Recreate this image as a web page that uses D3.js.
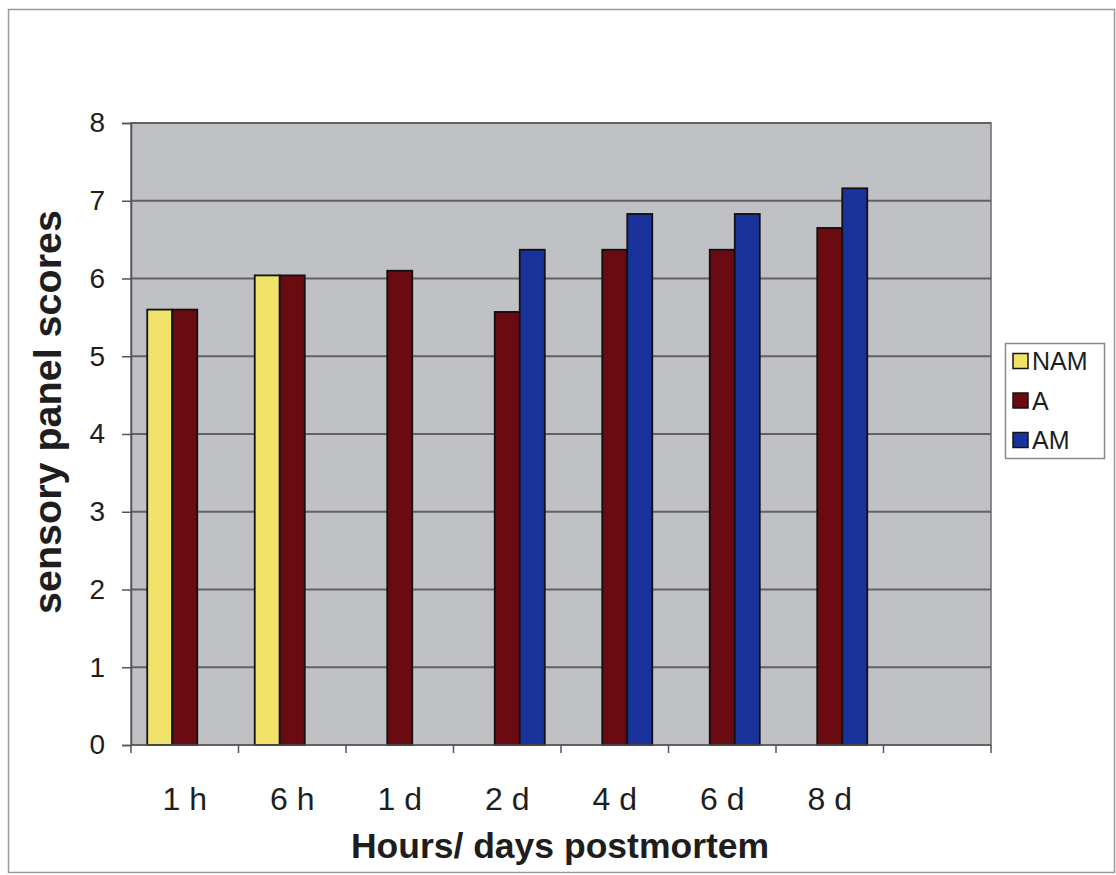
<!DOCTYPE html>
<html>
<head>
<meta charset="utf-8">
<script src="https://cdn.jsdelivr.net/npm/d3@7"></script>
<style>
  html, body { margin: 0; padding: 0; background: #fff; }
  svg { display: block; }
  text { font-family: Arial, "Liberation Sans", Helvetica, sans-serif; fill: #1e1e1e; }
</style>
</head>
<body>
<svg id="chart" width="1116" height="875"></svg>
<script>
// Sampling times (the last slot is left blank on the axis)
const categories = ["1 h", "6 h", "1 d", "2 d", "4 d", "6 d", "8 d", ""];
const seriesNames = ["NAM", "A", "AM"];
const seriesColors = ["#f1e36a", "#6a0b12", "#1a339c"];

// Mean sensory panel scores per series (null = not sampled)
const valuesNAM = [5.6, 6.04, null, null, null, null, null];
const valuesA   = [5.6, 6.04, 6.1, 5.57, 6.37, 6.37, 6.65];
const valuesAM  = [null, null, null, 6.37, 6.83, 6.83, 7.16];

const yTicks = [0, 1, 2, 3, 4, 5, 6, 7, 8];

const seriesValues = [valuesNAM, valuesA, valuesAM];

const svg = d3.select("#chart");
const W = 1116, H = 875;
const plot = { left: 131, right: 991, top: 123, bottom: 745 };

svg.append("rect").attr("width", W).attr("height", H).attr("fill", "#fff");

// outer frame
svg.append("rect")
  .attr("x", 8.5).attr("y", 9.5).attr("width", 1106).attr("height", 863)
  .attr("fill", "none").attr("stroke", "#9a9a9a").attr("stroke-width", 1.5);

const x = d3.scaleBand().domain(categories).range([plot.left, plot.right]).paddingInner(0).paddingOuter(0);
const groupFrac = 0.698;
const x1 = d3.scaleBand().domain(seriesNames)
  .range([x.bandwidth() * (1 - groupFrac) / 2, x.bandwidth() * (1 + groupFrac) / 2]);
const y = d3.scaleLinear().domain([0, 8]).range([plot.bottom, plot.top]);
const color = d3.scaleOrdinal().domain(seriesNames).range(seriesColors);

// plot background
svg.append("rect")
  .attr("x", plot.left).attr("y", plot.top)
  .attr("width", plot.right - plot.left).attr("height", plot.bottom - plot.top)
  .attr("fill", "#c0c1c4").attr("stroke", "#737373").attr("stroke-width", 1.6);

// horizontal gridlines
svg.append("g").selectAll("line").data(yTicks.filter(d => d > 0)).join("line")
  .attr("x1", plot.left).attr("x2", plot.right)
  .attr("y1", d => y(d)).attr("y2", d => y(d))
  .attr("stroke", "#626262").attr("stroke-width", 1.8);

// y axis
const yAxis = d3.axisLeft(y).tickValues(yTicks).tickSize(9).tickPadding(17).tickFormat(d3.format("d"));
const gy = svg.append("g").attr("transform", `translate(${plot.left},0)`).call(yAxis);
gy.select(".domain").attr("stroke", "#555").attr("stroke-width", 1.5);
gy.selectAll(".tick line").attr("stroke", "#555").attr("stroke-width", 1.5);
gy.selectAll(".tick text").attr("font-size", 28).attr("fill", "#1e1e1e")
  .attr("font-family", "Arial, 'Liberation Sans', sans-serif");

// bars
const rows = [];
categories.forEach((c, i) => {
  seriesNames.forEach((s, j) => {
    const v = seriesValues[j][i];
    if (v != null) rows.push({ cat: c, series: s, value: v });
  });
});

svg.append("g").selectAll("rect").data(rows).join("rect")
  .attr("x", d => x(d.cat) + x1(d.series))
  .attr("y", d => y(d.value))
  .attr("width", x1.bandwidth())
  .attr("height", d => y(0) - y(d.value))
  .attr("fill", d => color(d.series))
  .attr("stroke", "#111").attr("stroke-width", 1.8);

// x axis with ticks at category boundaries
const gx = svg.append("g").attr("transform", `translate(0,${plot.bottom})`);
gx.append("line").attr("x1", plot.left).attr("x2", plot.right)
  .attr("stroke", "#555").attr("stroke-width", 1.5);
const boundaries = categories.map(c => x(c)).concat([plot.right]);
gx.selectAll("line.tick").data(boundaries).join("line").attr("class", "tick")
  .attr("x1", d => d).attr("x2", d => d).attr("y1", 0).attr("y2", 8)
  .attr("stroke", "#555").attr("stroke-width", 1.5);
gx.selectAll("text").data(categories.filter(c => c !== "")).join("text")
  .attr("x", d => x(d) + x.bandwidth() / 2)
  .attr("y", 65)
  .attr("text-anchor", "middle")
  .attr("font-size", 32)
  .text(d => d);

// axis titles
svg.append("text")
  .attr("x", 560).attr("y", 858)
  .attr("text-anchor", "middle")
  .attr("font-size", 35.5).attr("font-weight", "bold")
  .text("Hours/ days postmortem");

svg.append("text")
  .attr("transform", "translate(61,412) rotate(-90)")
  .attr("text-anchor", "middle")
  .attr("font-size", 39.5).attr("font-weight", "bold")
  .text("sensory panel scores");

// legend
const legend = svg.append("g");
legend.append("rect")
  .attr("x", 1005.5).attr("y", 343.5).attr("width", 99).attr("height", 115)
  .attr("fill", "#fff").attr("stroke", "#8a8a8a").attr("stroke-width", 1.5);
const ly = d3.scalePoint().domain(seriesNames).range([361, 440]);
const items = legend.selectAll("g.item").data(seriesNames).join("g").attr("class", "item")
  .attr("transform", d => `translate(1013,${ly(d)})`);
items.append("rect")
  .attr("x", 0).attr("y", -7.5).attr("width", 15).attr("height", 15)
  .attr("fill", d => color(d)).attr("stroke", "#151515").attr("stroke-width", 1.5);
items.append("text")
  .attr("x", 19).attr("y", 9)
  .attr("font-size", 25)
  .text(d => d);
</script>
</body>
</html>
